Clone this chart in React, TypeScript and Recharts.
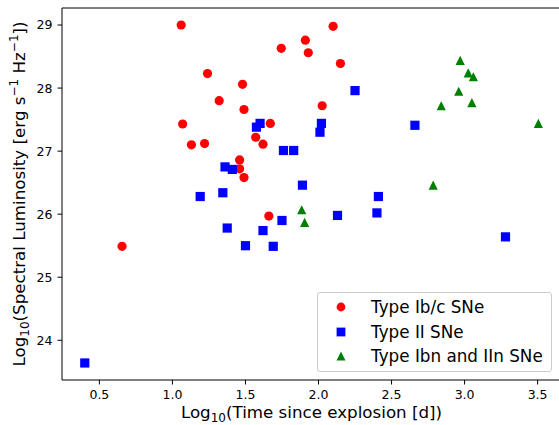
import { Legend, ReferenceLine, Scatter, ScatterChart, XAxis, YAxis } from 'recharts'

// log10(time since explosion [d]) and log10(spectral luminosity) per class
const ibcTime = [1.06, 1.24, 1.48, 1.32, 1.49, 1.07, 1.67, 1.57, 1.62, 1.13, 1.22, 1.46, 1.46, 1.49, 1.745, 1.66, 0.655, 2.1, 1.91, 1.93, 2.15, 2.025]
const ibcLum = [29.0, 28.23, 28.06, 27.8, 27.66, 27.43, 27.44, 27.22, 27.11, 27.1, 27.12, 26.86, 26.72, 26.58, 28.63, 25.97, 25.49, 28.98, 28.76, 28.56, 28.39, 27.72]

const iiTime = [1.6, 1.575, 1.36, 1.41, 1.19, 1.345, 1.76, 1.83, 2.25, 2.66, 2.02, 2.01, 1.89, 2.41, 2.4, 2.13, 0.4, 1.375, 1.5, 1.62, 1.69, 1.75, 3.28]
const iiLum = [27.44, 27.38, 26.75, 26.71, 26.28, 26.34, 27.01, 27.01, 27.96, 27.41, 27.44, 27.3, 26.46, 26.28, 26.02, 25.98, 23.64, 25.78, 25.5, 25.74, 25.49, 25.9, 25.64]

const ibnTime = [2.97, 3.025, 3.06, 2.96, 2.84, 3.05, 3.505, 2.785, 1.885, 1.905]
const ibnLum = [28.44, 28.24, 28.18, 27.95, 27.72, 27.77, 27.44, 26.46, 26.07, 25.87]

const xTicks = [0.5, 1.0, 1.5, 2.0, 2.5, 3.0, 3.5]
const yTicks = [24, 25, 26, 27, 28, 29]
const X_DOMAIN: [number, number] = [0.244, 3.66]
const Y_DOMAIN: [number, number] = [23.37, 29.27]

const FONT = '"DejaVu Sans", sans-serif'
const RED = '#ff0000'
const BLUE = '#0000ff'
const GREEN = '#008000'
const M = 4.6
const LABEL_SIZE = 16.7

const toPoints = (xs: number[], ys: number[]) => xs.map((x, i) => ({ x, y: ys[i] }))

const Circle = ({ cx, cy }: any) => <circle cx={cx} cy={cy} r={M} fill={RED} />
const Square = ({ cx, cy }: any) => <rect x={cx - M} y={cy - M} width={2 * M} height={2 * M} fill={BLUE} />
const Triangle = ({ cx, cy }: any) => (
  <polygon points={`${cx},${cy - M} ${cx - M},${cy + M} ${cx + M},${cy + M}`} fill={GREEN} />
)

const legendItems = [
  { label: 'Type Ib/c SNe', shape: 'circle', color: RED },
  { label: 'Type II SNe', shape: 'square', color: BLUE },
  { label: 'Type Ibn and IIn SNe', shape: 'triangle', color: GREEN },
]

function LegendMarker({ shape, color }: { shape: string; color: string }) {
  return (
    <svg width={12} height={12} style={{ display: 'block' }}>
      {shape === 'circle' && <circle cx={6} cy={6} r={4.4} fill={color} />}
      {shape === 'square' && <rect x={1.6} y={1.6} width={8.8} height={8.8} fill={color} />}
      {shape === 'triangle' && <polygon points="6,1.5 1.5,10.5 10.5,10.5" fill={color} />}
    </svg>
  )
}

function LegendBox() {
  return (
    <div
      style={{
        boxSizing: 'border-box',
        width: 235,
        height: 80,
        border: '1px solid #cccccc',
        borderRadius: 3,
        background: 'rgba(255,255,255,0.8)',
        padding: '2px 0 0 0',
        fontFamily: FONT,
        fontSize: 16.8,
        color: '#000',
      }}
    >
      {legendItems.map((it) => (
        <div key={it.label} style={{ display: 'flex', alignItems: 'center', height: 24.5 }}>
          <div style={{ width: 17 }} />
          <LegendMarker shape={it.shape} color={it.color} />
          <span style={{ marginLeft: 24, whiteSpace: 'nowrap' }}>{it.label}</span>
        </div>
      ))}
    </div>
  )
}

const XLabel = ({ viewBox }: any) => (
  <text x={viewBox.x + viewBox.width / 2} y={viewBox.y + 38} textAnchor="middle" fontFamily={FONT} fontSize={LABEL_SIZE} fill="#000">
    Log<tspan fontSize={12} dy={4}>10</tspan>
    <tspan dy={-4}>(Time since explosion [d])</tspan>
  </text>
)

const YLabel = ({ viewBox }: any) => {
  const x = 25
  const y = viewBox.y + viewBox.height / 2
  return (
    <text x={x} y={y} transform={`rotate(-90 ${x} ${y})`} textAnchor="middle" fontFamily={FONT} fontSize={LABEL_SIZE} fill="#000">
      Log<tspan fontSize={12} dy={4}>10</tspan>
      <tspan dy={-4}>(Spectral Luminosity [erg s</tspan>
      <tspan fontSize={12} dy={-7}>−1</tspan>
      <tspan dy={7}> Hz</tspan>
      <tspan fontSize={12} dy={-7}>−1</tspan>
      <tspan dy={7}>])</tspan>
    </text>
  )
}

export default function App() {
  return (
    <div style={{ position: 'fixed', left: 0, top: 0, width: 559, height: 425, overflow: 'hidden', background: '#fff' }}>
      <ScatterChart width={580} height={425} margin={{ top: 8, right: 19, bottom: 0, left: 0 }}>
        <XAxis
          type="number"
          dataKey="x"
          domain={X_DOMAIN}
          allowDataOverflow
          ticks={xTicks}
          interval={0}
          tickFormatter={(v: number) => v.toFixed(1)}
          height={45}
          tickSize={4.5}
          tickMargin={6}
          stroke="#000"
          tick={{ fill: '#000', fontFamily: FONT, fontSize: 12.5 }}
          label={{ content: XLabel }}
        />
        <YAxis
          type="number"
          dataKey="y"
          domain={Y_DOMAIN}
          allowDataOverflow
          ticks={yTicks}
          interval={0}
          width={62}
          tickSize={4.5}
          tickMargin={5}
          stroke="#000"
          tick={{ fill: '#000', fontFamily: FONT, fontSize: 12.5 }}
          label={{ content: YLabel }}
        />
        <ReferenceLine y={Y_DOMAIN[1]} stroke="#000" strokeWidth={1} />
        <Scatter name="Type Ib/c SNe" data={toPoints(ibcTime, ibcLum)} shape={Circle} isAnimationActive={false} />
        <Scatter name="Type II SNe" data={toPoints(iiTime, iiLum)} shape={Square} isAnimationActive={false} />
        <Scatter name="Type Ibn and IIn SNe" data={toPoints(ibnTime, ibnLum)} shape={Triangle} isAnimationActive={false} />
        <Legend
          layout="vertical"
          align="center"
          verticalAlign="middle"
          content={() => <LegendBox />}
          wrapperStyle={{ position: 'absolute', left: 317, top: 292, width: 235, height: 80 }}
        />
      </ScatterChart>
    </div>
  )
}
